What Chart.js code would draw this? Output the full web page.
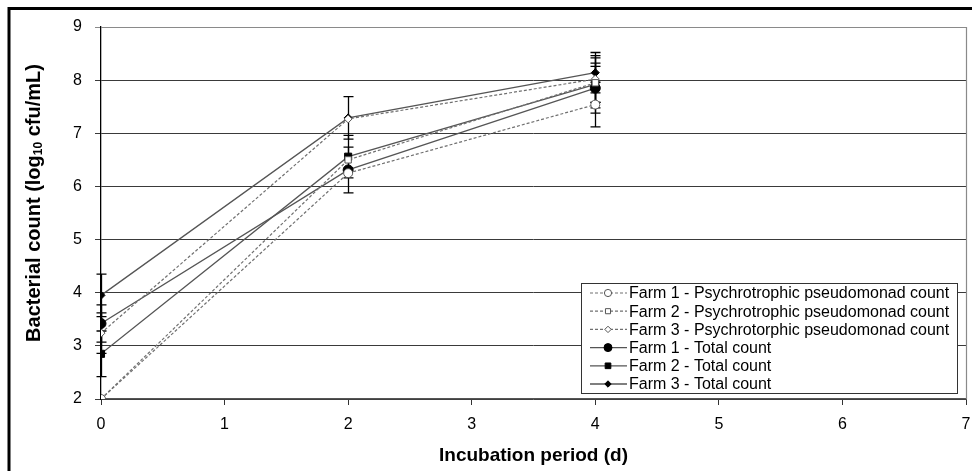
<!DOCTYPE html>
<html>
<head>
<meta charset="utf-8">
<script src="https://cdn.jsdelivr.net/npm/chart.js@4.4.1/dist/chart.umd.min.js"></script>
<style>
  html, body { margin: 0; padding: 0; background: #ffffff; }
  #wrap { width: 972px; height: 471px; position: relative; }
</style>
</head>
<body>
<div id="wrap"><canvas id="chart" width="972" height="471"></canvas></div>
<script>
// Incubation days sampled
const days = [0, 2, 4];

// Series names
const seriesNames = [
  'Farm 1 - Psychrotrophic pseudomonad count',
  'Farm 2 - Psychrotrophic pseudomonad count',
  'Farm 3 - Psychrotorphic pseudomonad count',
  'Farm 1 - Total count',
  'Farm 2 - Total count',
  'Farm 3 - Total count'
];

// Mean counts (log10 cfu/mL)
const farm1Psychro = [2.00, 6.25, 7.54];
const farm2Psychro = [2.00, 6.50, 7.95];
const farm3Psychro = [3.24, 7.27, 8.02];
const farm1Total   = [3.42, 6.31, 7.85];
const farm2Total   = [2.85, 6.56, 7.92];
const farm3Total   = [3.95, 7.29, 8.14];

// Standard deviations
const farm1PsychroErr = [0.00, 0.00, 0.42];
const farm2PsychroErr = [0.00, 0.00, 0.47];
const farm3PsychroErr = [0.38, 0.00, 0.44];
const farm1TotalErr   = [0.35, 0.43, 0.47];
const farm2TotalErr   = [0.43, 0.40, 0.34];
const farm3TotalErr   = [0.40, 0.40, 0.38];

// Axis ticks
const xTicks = [0, 1, 2, 3, 4, 5, 6, 7];
const yTicks = [2, 3, 4, 5, 6, 7, 8, 9];

const FONT = "'Liberation Sans', Arial, sans-serif";

function pts(values) {
  return days.map((d, i) => ({ x: d, y: values[i] }));
}

function psychroSet(label, values, err, style) {
  return {
    label, data: pts(values), err,
    borderColor: '#707070', borderWidth: 1.2, borderDash: [3, 2],
    pointStyle: style, pointRadius: style === 'rectRot' ? 4 : 4.5,
    pointBackgroundColor: '#ffffff', pointBorderColor: '#555555', pointBorderWidth: 1,
    tension: 0, fill: false
  };
}
function totalSet(label, values, err, style) {
  return {
    label, data: pts(values), err,
    borderColor: '#555555', borderWidth: 1.3,
    pointStyle: style, pointRadius: style === 'rectRot' ? 4 : 5,
    pointBackgroundColor: '#000000', pointBorderColor: '#000000', pointBorderWidth: 1,
    tension: 0, fill: false
  };
}

const datasets = [
  psychroSet(seriesNames[0], farm1Psychro, farm1PsychroErr, 'circle'),
  psychroSet(seriesNames[1], farm2Psychro, farm2PsychroErr, 'rect'),
  psychroSet(seriesNames[2], farm3Psychro, farm3PsychroErr, 'rectRot'),
  totalSet(seriesNames[3], farm1Total, farm1TotalErr, 'circle'),
  totalSet(seriesNames[4], farm2Total, farm2TotalErr, 'rect'),
  totalSet(seriesNames[5], farm3Total, farm3TotalErr, 'rectRot')
];

// Outer frame, plot border and axis titles
const framePlugin = {
  id: 'frame',
  afterDraw(chart) {
    const { ctx, chartArea: a } = chart;
    ctx.save();
    // right and top plot border
    ctx.strokeStyle = '#8a8a8a';
    ctx.lineWidth = 1.2;
    ctx.beginPath();
    ctx.moveTo(a.left, a.top + 0.5);
    ctx.lineTo(a.right + 0.5, a.top + 0.5);
    ctx.lineTo(a.right + 0.5, a.bottom);
    ctx.stroke();
    // outer frame
    ctx.strokeStyle = '#000000';
    ctx.lineWidth = 3;
    ctx.beginPath();
    ctx.moveTo(9, 471);
    ctx.lineTo(9, 8.5);
    ctx.lineTo(972, 8.5);
    ctx.stroke();

    // x title
    ctx.fillStyle = '#000000';
    ctx.font = 'bold 19px ' + FONT;
    ctx.textAlign = 'center';
    ctx.textBaseline = 'middle';
    ctx.fillText('Incubation period (d)', (a.left + a.right) / 2, 456);

    // y title with subscript
    ctx.translate(34, 203);
    ctx.rotate(-Math.PI / 2);
    const p1 = 'Bacterial count (log', sub = '10', p2 = ' cfu/mL)';
    ctx.font = 'bold 20px ' + FONT;
    const w1 = ctx.measureText(p1).width, w3 = ctx.measureText(p2).width;
    ctx.font = 'bold 12px ' + FONT;
    const w2 = ctx.measureText(sub).width;
    let x = -(w1 + w2 + w3) / 2;
    ctx.textAlign = 'left';
    ctx.font = 'bold 20px ' + FONT;
    ctx.fillText(p1, x, 0); x += w1;
    ctx.font = 'bold 12px ' + FONT;
    ctx.fillText(sub, x, 5); x += w2;
    ctx.font = 'bold 20px ' + FONT;
    ctx.fillText(p2, x, 0);
    ctx.restore();
  }
};

// Vertical error bars with caps
const errorBarPlugin = {
  id: 'errorBars',
  beforeDatasetsDraw(chart) {
    const { ctx, scales: { x, y } } = chart;
    ctx.save();
    ctx.strokeStyle = '#000000';
    ctx.lineWidth = 1.3;
    chart.data.datasets.forEach(ds => {
      ds.data.forEach((p, i) => {
        const e = ds.err[i];
        if (!e) return;
        const px = Math.round(x.getPixelForValue(p.x)) + 0.5;
        const top = y.getPixelForValue(p.y + e);
        const bot = y.getPixelForValue(p.y - e);
        ctx.beginPath();
        ctx.moveTo(px, top); ctx.lineTo(px, bot);
        ctx.moveTo(px - 5, top); ctx.lineTo(px + 5, top);
        ctx.moveTo(px - 5, bot); ctx.lineTo(px + 5, bot);
        ctx.stroke();
      });
    });
    ctx.restore();
  }
};

// Boxed legend inside the plot area
const legendPlugin = {
  id: 'boxLegend',
  afterDraw(chart) {
    const { ctx } = chart;
    const bx = 581, by = 283, bw = 376, bh = 110, rowH = 18.2;
    ctx.save();
    ctx.fillStyle = '#ffffff';
    ctx.fillRect(bx, by, bw, bh);
    ctx.strokeStyle = '#333333';
    ctx.lineWidth = 1;
    ctx.strokeRect(bx + 0.5, by + 0.5, bw, bh);
    chart.data.datasets.forEach((ds, i) => {
      const cy = by + 10 + i * rowH;
      ctx.save();
      ctx.strokeStyle = ds.borderColor;
      ctx.lineWidth = ds.borderWidth;
      ctx.setLineDash(ds.borderDash || []);
      ctx.beginPath();
      ctx.moveTo(590, cy); ctx.lineTo(627, cy);
      ctx.stroke();
      ctx.setLineDash([]);
      ctx.fillStyle = ds.pointBackgroundColor;
      ctx.strokeStyle = ds.pointBorderColor;
      ctx.lineWidth = 1;
      Chart.helpers.drawPoint(ctx, {
        pointStyle: ds.pointStyle,
        radius: ds.pointRadius * 0.8,
        borderWidth: 1
      }, 608, cy);
      ctx.restore();
      ctx.fillStyle = '#000000';
      ctx.font = '16px ' + FONT;
      ctx.textAlign = 'left';
      ctx.textBaseline = 'middle';
      ctx.fillText(ds.label, 629, cy + 1);
    });
    ctx.restore();
  }
};

new Chart(document.getElementById('chart'), {
  type: 'line',
  data: { datasets },
  options: {
    responsive: false,
    animation: false,
    layout: { padding: { top: 27, right: 3, left: 0, bottom: 0 } },
    plugins: { legend: { display: false }, tooltip: { enabled: false } },
    scales: {
      x: {
        type: 'linear', min: 0, max: 7,
        afterFit(s) { s.height = 72; s.paddingRight = 0; },
        afterBuildTicks(s) { s.ticks = xTicks.map(v => ({ value: v })); },
        grid: { display: true, drawOnChartArea: false, drawTicks: true, tickLength: 6, color: '#333333', lineWidth: 1 },
        border: { display: true, color: '#555555', width: 1.2 },
        ticks: { color: '#000000', font: { family: FONT, size: 16 }, padding: 10, maxRotation: 0 }
      },
      y: {
        type: 'linear', min: 2, max: 9,
        afterFit(s) { s.width = 101; },
        afterBuildTicks(s) { s.ticks = yTicks.map(v => ({ value: v })); },
        grid: {
          color: ctx => (ctx.tick && ctx.tick.value === 9) ? '#8a8a8a' : '#3a3a3a',
          lineWidth: 1, drawTicks: true, tickLength: 6
        },
        border: { display: true, color: '#000000', width: 1.3 },
        ticks: { color: '#000000', font: { family: FONT, size: 16 }, padding: 13 }
      }
    }
  },
  plugins: [errorBarPlugin, legendPlugin, framePlugin]
});
</script>
</body>
</html>
